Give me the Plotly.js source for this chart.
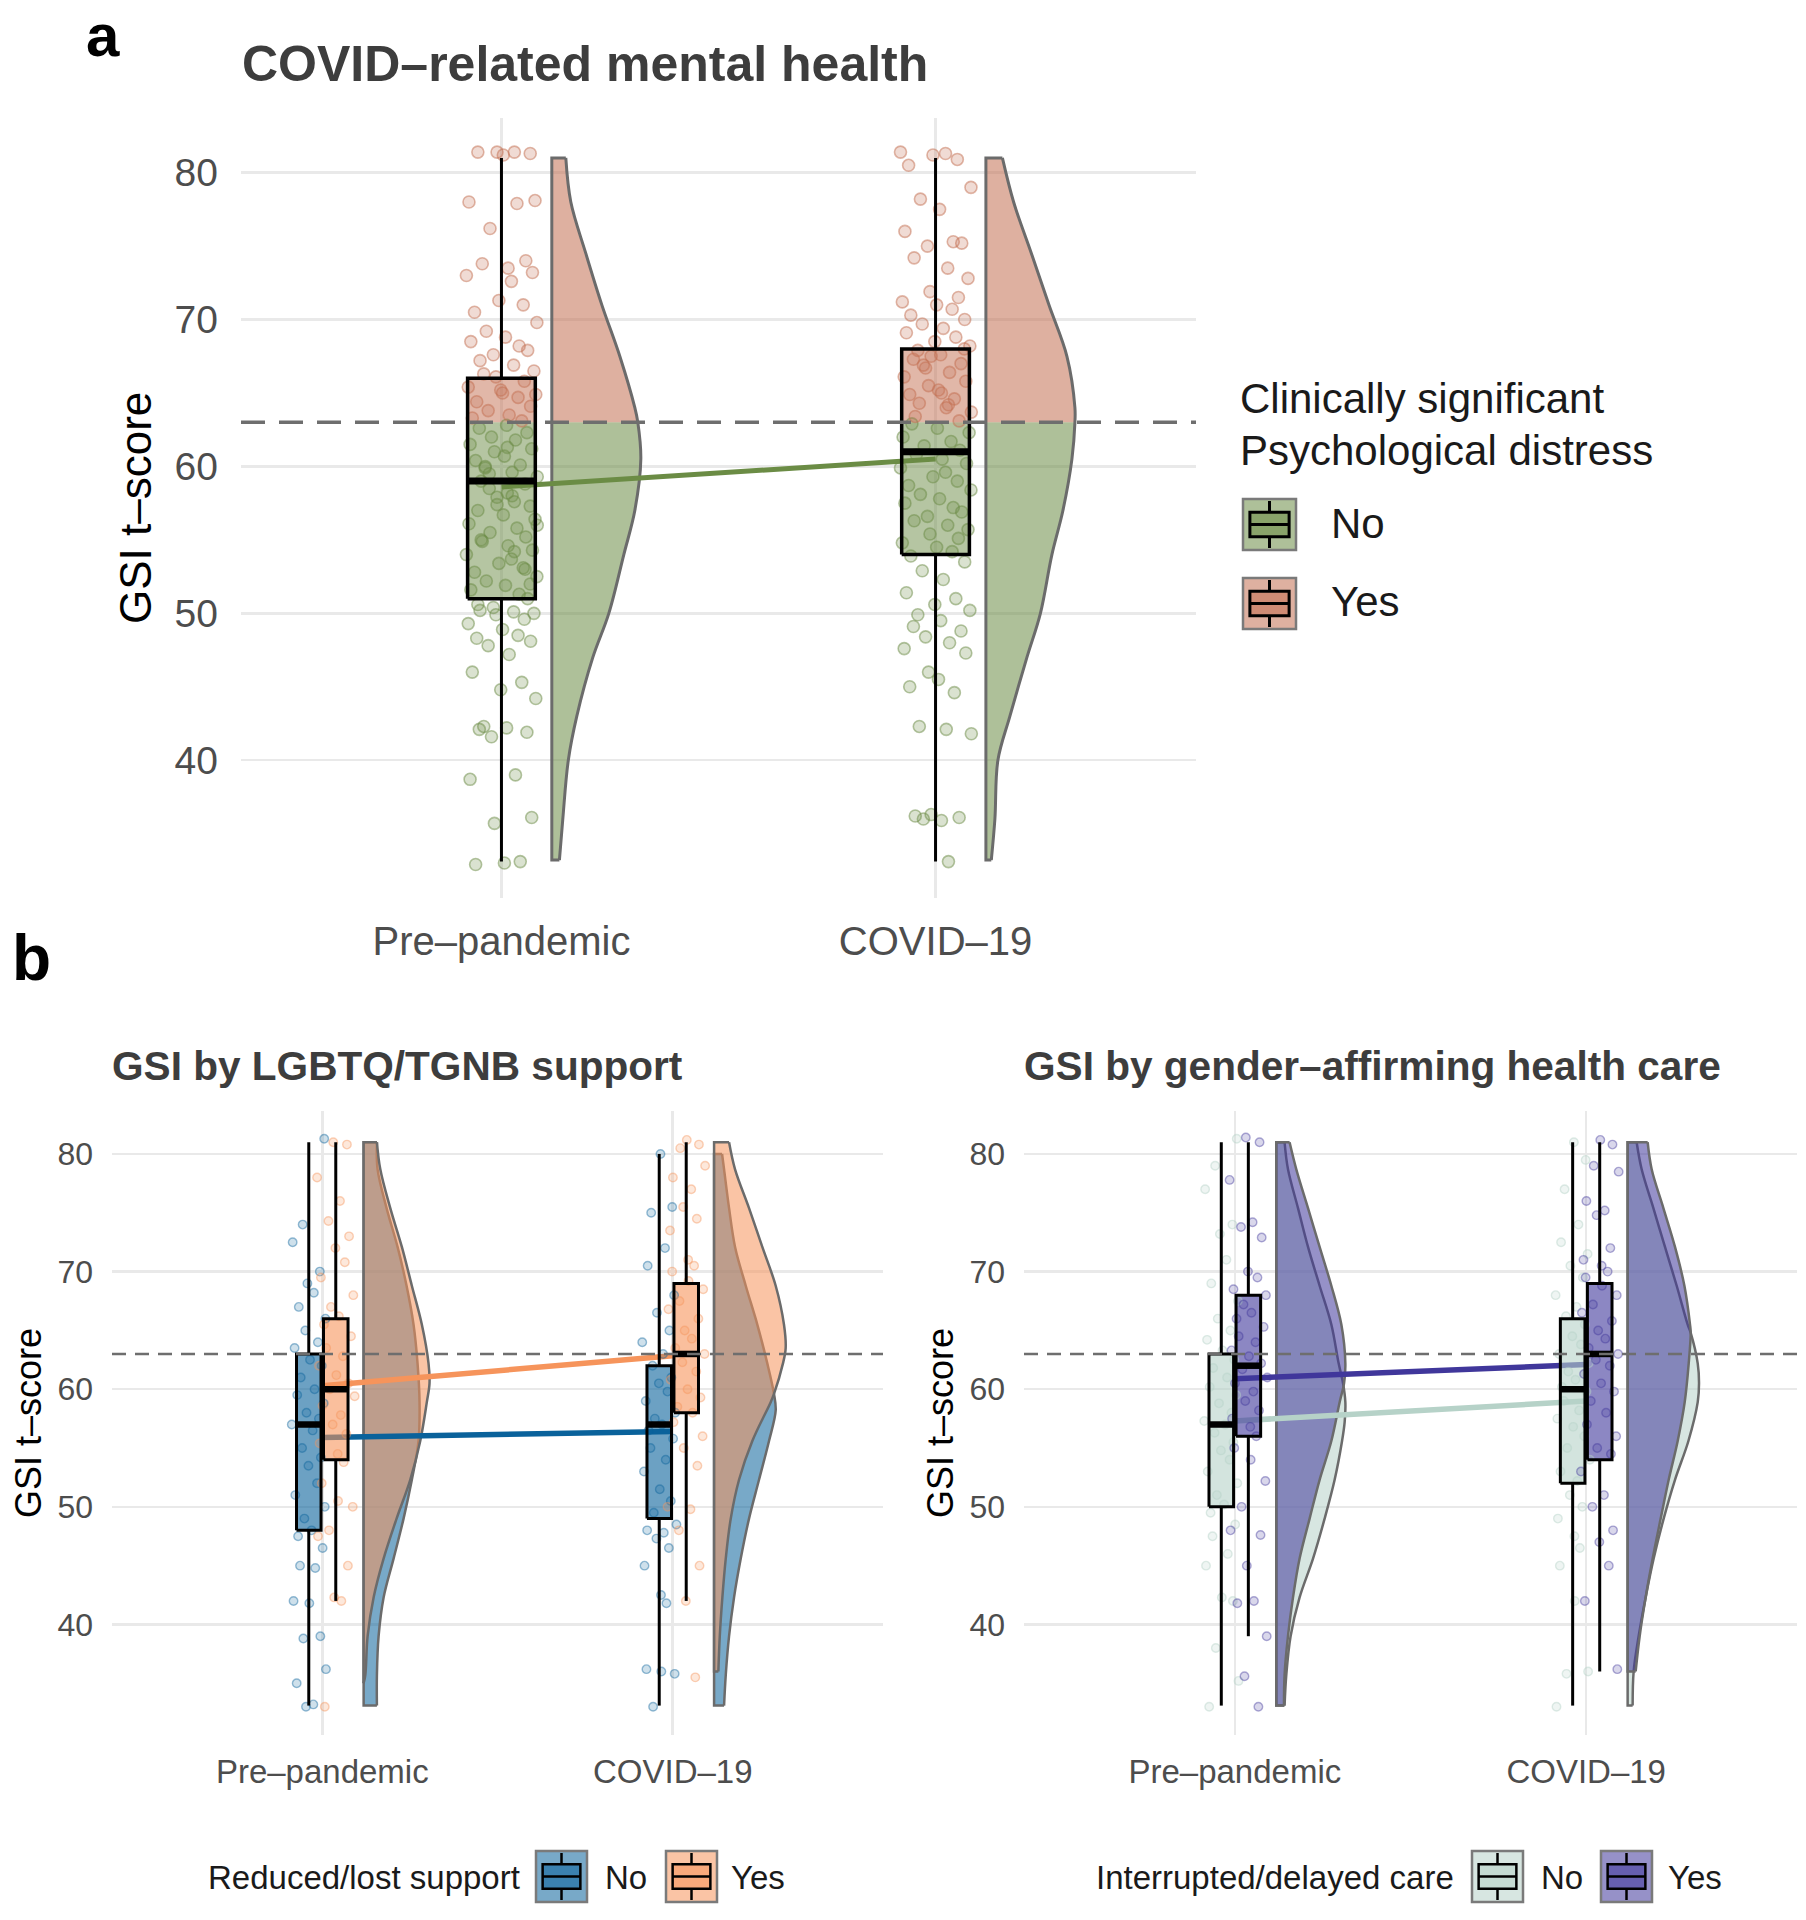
<!DOCTYPE html>
<html><head><meta charset="utf-8">
<script src="https://cdn.plot.ly/plotly-3.0.1.min.js"></script>
<style>html,body{margin:0;padding:0;background:#fff}#chart{width:1806px;height:1920px}</style>
</head><body><div id="chart"></div>
<script>
// ================= DATA =================
const timepoints = ['Pre\u2013pandemic', 'COVID\u201319'];
const threshold = 63;
const yTicks = [40, 50, 60, 70, 80];

// ---- panel a: all participants ----
const aPre = [81.4,81.4,81.3,81.4,81.2,78.1,78.0,77.9,76.2,74.0,73.8,73.5,73.2,73.0,72.6,71.3,71.0,70.5,69.8,69.2,68.8,68.5,68.2,67.9,67.6,67.2,66.9,66.5,66.1,65.8,65.4,65.0,64.7,64.4,64.1,63.8,63.5,63.3,63.1,65.2,64.9,66.3,
  62.8,62.6,62.3,62.0,61.8,61.5,61.2,61.0,60.7,60.4,60.1,59.9,59.6,59.3,59.0,58.8,58.5,58.2,57.9,57.6,57.3,57.0,56.7,56.4,56.1,55.8,55.5,55.2,54.9,54.6,54.3,54.0,53.7,53.4,53.1,52.8,52.5,52.2,51.9,51.6,51.3,51.0,50.4,50.2,50.1,50.0,49.9,49.6,49.3,48.9,48.5,48.3,48.1,47.8,47.2,46.0,45.3,44.8,44.2,42.3,42.2,42.1,41.9,41.6,39.0,38.7,36.1,35.7,33.0,32.9,33.1,60.0,58.0,56.0,55.0,53.0,59.5,61.3,57.4,54.2,52.0,50.6];
const aCov = [81.4,81.3,81.2,80.9,80.5,79.0,78.2,77.5,76.0,75.3,75.2,75.0,74.2,73.5,72.8,71.9,71.5,71.2,71.0,70.7,70.3,70.0,69.7,69.4,69.1,68.8,68.5,68.2,67.9,67.6,67.3,67.0,66.7,66.4,66.1,65.8,65.5,65.2,64.9,64.6,64.3,64.0,63.7,63.4,63.1,66.9,65.0,67.5,64.2,68.0,
  62.9,62.6,62.3,62.0,61.7,61.4,61.1,60.8,60.5,60.2,59.9,59.6,59.3,59.0,58.7,58.4,58.1,57.8,57.5,57.2,56.9,56.6,56.3,56.0,55.7,55.4,55.1,54.8,54.5,54.2,53.9,53.5,52.9,52.3,51.4,51.0,50.6,50.2,49.9,49.5,49.1,48.8,48.4,48.0,47.6,47.3,46.0,45.5,45.0,44.6,42.3,42.1,41.8,36.2,36.1,36.0,35.9,36.3,33.1];
// box stats [lower whisker, Q1, median, Q3, upper whisker]
const aPreStats = [33.1, 51, 59, 66, 81];
const aCovStats = [33.1, 54, 61, 68, 81];
const aMeans = [58.6, 60.5];
// density (half-violin)
const aDensY   = [33.2, 36, 40, 43, 47, 50, 54, 57, 60.5, 63, 64, 67.5, 71, 74.5, 78, 81];
const aPreDens = [7.6, 11, 16.5, 25, 41, 57, 72, 83, 89, 86, 83, 68, 50, 34, 19, 14];
const aCovDens = [5.4, 9, 12, 24, 41, 54.5, 66, 77, 86, 89, 89, 81, 63, 45.5, 27.7, 16.5];

// ---- panel b left: reduced/lost LGBTQ/TGNB support ----
const supNoPre  = [81.3,74.0,72.5,70.0,69.0,68.2,67.0,66.0,65.0,64.0,63.5,62.5,62.0,61.0,60.0,59.5,58.8,58.0,57.5,57.0,56.5,55.0,54.2,53.5,52.0,51.0,50.0,49.0,48.0,47.5,46.5,45.0,44.8,42.0,41.8,39.0,38.8,36.2,35.0,33.2,33.0];
const supYesPre = [81.0,80.8,78.0,76.0,74.3,73.0,72.0,70.8,69.5,68.0,67.0,66.2,65.5,64.5,63.5,62.8,62.0,61.2,60.5,60.0,59.4,58.6,57.8,57.0,56.2,55.4,54.5,53.8,52.0,50.5,50.0,48.0,47.5,45.0,42.3,42.0,33.0];
const supNoCov  = [80.0,75.5,75.0,72.0,70.5,68.0,66.5,65.0,64.0,63.0,62.0,61.0,60.5,59.8,59.0,58.0,57.5,57.0,56.5,55.8,55.0,54.0,53.0,51.5,50.5,49.5,48.5,48.0,47.8,47.3,46.5,45.0,42.5,41.8,36.2,36.0,35.8,33.0];
const supYesCov = [81.2,80.8,80.5,79.0,78.0,77.0,75.5,74.5,73.5,71.0,70.5,70.0,69.2,68.5,67.5,66.8,66.0,65.0,64.3,63.5,63.0,62.3,61.5,60.8,60.0,59.3,58.5,58.0,57.2,56.0,55.0,53.5,50.0,49.8,48.0,45.0,42.0,35.5];
const supNoStats  = [[33.1, 48, 57, 63, 81], [33.1, 49, 57, 62, 80]];
const supYesStats = [[42, 54, 60, 66, 81], [42, 58, 63, 69, 81]];
const supNoMeans  = [55.9, 56.4];
const supYesMeans = [60.3, 62.85];
const supNoPreDY  = [33.1, 35.7, 39, 42.3, 45.6, 49, 52.3, 55.6, 58.9, 62.2, 65.5, 68.8, 72.1, 75.4, 78.7, 81];
const supNoPreDW  = [13.3, 13.3, 15, 20, 30, 40, 48.3, 55, 56, 54, 50, 43, 34, 23, 14, 13.3];
const supYesPreDY = [35, 35.7, 39, 42.3, 45.6, 49, 52.3, 55.6, 58.9, 60.5, 62.2, 65.5, 68.8, 72.1, 75.4, 78.7, 81];
const supYesPreDW = [0, 1.7, 4, 10, 20, 33, 46.7, 56.7, 63.3, 66, 65, 58.3, 48.3, 38.3, 26.7, 16.7, 13.3];
const supNoCovDY  = [33.1, 35.7, 39, 42.3, 45.6, 49, 52.3, 55.6, 58.2, 59.6, 62.2, 65.5, 68.8, 72.1, 75.4, 78.7, 80];
const supNoCovDW  = [10, 11.7, 15, 20, 26.7, 35, 45, 55, 61.7, 60, 53.3, 43.3, 31.7, 21, 15, 10, 8];
const supYesCovDY = [36, 39, 42.3, 45.6, 49, 52.3, 55.6, 58.9, 59.6, 62.2, 63.5, 65.5, 68.8, 72.1, 75.4, 78.7, 81];
const supYesCovDW = [4.3, 5.7, 8.3, 11.7, 16.7, 25, 38.3, 56.7, 60, 69, 71.7, 70, 61.7, 48.3, 35, 21, 15];

// ---- panel b right: interrupted/delayed gender-affirming care ----
const careNoPre  = [81.3,79.0,77.0,74.0,73.2,71.0,69.0,67.5,66.0,65.0,64.2,63.3,62.5,61.8,61.0,60.2,59.5,58.8,58.0,57.3,57.0,56.3,55.5,54.8,54.0,53.0,52.0,51.0,50.2,49.5,48.5,47.5,46.0,45.0,42.3,42.0,38.0,35.2,33.0];
const careYesPre = [81.4,81.0,77.8,74.2,73.8,72.9,70.0,69.5,68.5,68.0,67.2,66.5,66.0,65.3,64.5,64.0,63.3,62.8,62.2,61.7,61.0,60.5,59.8,59.0,58.2,57.5,56.8,56.0,55.0,54.0,52.2,50.0,48.0,47.6,45.0,42.0,41.8,39.0,35.6,33.0];
const careNoCov  = [81.0,79.5,77.0,74.0,72.5,71.5,70.5,69.5,68.0,67.0,66.2,65.5,64.5,63.8,63.0,62.2,61.5,60.8,60.2,59.8,59.0,58.2,57.5,56.8,56.0,55.0,54.0,53.0,52.2,51.0,50.0,49.0,47.5,46.5,45.0,42.0,36.0,35.8,33.0];
const careYesCov = [81.2,80.8,79.0,78.5,76.0,75.2,74.8,72.0,71.0,70.5,70.0,69.5,68.8,68.0,67.2,66.5,65.8,65.0,64.3,63.5,63.0,62.5,62.0,61.3,60.5,59.8,59.0,58.0,57.0,56.0,55.0,54.5,53.0,51.0,50.0,48.0,47.0,45.0,42.0,36.2];
const careNoStats  = [[33.1, 50, 57, 63, 81], [33.1, 52, 60, 66, 81]];
const careYesStats = [[39, 56, 62, 68, 81], [36, 54, 63, 69, 81]];
const careNoMeans  = [57.3, 59.0];
const careYesMeans = [60.9, 62.1];
const careNoPreDY  = [33.1, 35.7, 39, 42.3, 45.6, 49, 52.3, 55.6, 57.2, 58.9, 60.5, 62.2, 65.5, 68.8, 72.1, 75.4, 78.7, 81];
const careNoPreDW  = [8.3, 10, 14.3, 23.3, 36.7, 48.3, 58.3, 65.7, 68.3, 69, 66.7, 62.3, 55, 43.3, 31.7, 21.7, 11.7, 8.3];
const careYesPreDY = [33.1, 35.7, 39, 42.3, 45.6, 49, 52.3, 55.6, 58.9, 60.5, 62.2, 65.5, 68.8, 72.1, 75.4, 78.7, 81];
const careYesPreDW = [7.7, 8.3, 11.7, 16.7, 23.3, 33.3, 43.3, 55, 63.3, 67.7, 69, 65, 55, 43.3, 31.7, 20, 13.3];
const careNoCovDY  = [33.1, 36, 39, 42.3, 45.6, 49, 52.3, 55.6, 58.9, 60.5, 62.2, 64.8, 65.5, 68.8, 72.1, 75.4, 78.7, 81];
const careNoCovDW  = [5, 6, 11, 18, 26, 36, 47.3, 60.7, 70, 71.3, 70, 63, 60, 49, 37.3, 25.7, 14, 9];
const careYesCovDY = [36, 39, 42.3, 45.6, 49, 52.3, 55.6, 58.9, 62.2, 64.8, 65.5, 68.8, 72.1, 75.4, 78.7, 81];
const careYesCovDW = [8, 12, 18, 25, 33, 41, 50, 57, 61, 63, 62.3, 56.7, 47.3, 35.7, 24, 20];

// fixed jitter offsets (fraction of jitter half-width)
const jitterA = [-0.12,0.35,0.78,-0.64,0.05,0.91,-0.88,0.42,-0.31,0.66,-0.52,0.18,0.84,-0.95,0.27,-0.07,0.59,-0.73,0.96,-0.41,0.11,-0.83,0.48,0.71,-0.22,-0.58,0.33,0.88,-0.15,0.62,-0.9,0.03,0.45,-0.67,0.79,-0.36,0.21,-0.79,0.55,-0.02,0.93,-0.48,0.14,-0.6,0.69,-0.27,0.38,-0.85,0.82,-0.19,0.08,-0.7,0.51,-0.44,0.29,0.97,-0.55,0.64,-0.33,0.16];
const jitterB = [0.41,-0.73,0.12,0.88,-0.35,-0.92,0.63,-0.08,0.29,-0.57,0.95,-0.2,0.52,-0.81,0.07,0.74,-0.46,0.33,-0.66,0.85,-0.13,0.58,-0.97,0.22,-0.38,0.69,-0.02,0.47,-0.77,0.91,-0.25,0.16,-0.61,0.79,-0.5,0.37,-0.87,0.03,0.66,-0.31,0.98,-0.69,0.26,-0.16,0.55,-0.84,0.1];

// ================= STYLE =================
const W = 1806, H = 1920;
const FONT = 'Liberation Sans, Arial, Helvetica, sans-serif';
const COL = {
  green: [107,140,69], red: [195,111,82],
  blue: [10,98,155], orange: [246,148,91],
  light: [182,210,200], purple: [64,55,155]
};
const rgba = (c, a) => `rgba(${c[0]},${c[1]},${c[2]},${a})`;
const CLEAR = 'rgba(0,0,0,0)';
const OUTLINE = '#6b6b6b';
const GRID = '#e9e9e9';
const px = x => x / W, py = y => 1 - y / H;

const PA = {boxHalf: 0.078, vOff: 0.116, vScale: 1/434, jit: 0.085, pt: 12,
            boxLW: 3.5, medLW: 7, whiskLW: 3, vLW: 3, meanLW: 5};
const PB = {boxHalf: 0.035, dodge: 0.0385, vOff: 0.118, vScale: 1/351, jit: 0.05, pt: 8.5,
            boxLW: 3, medLW: 6.5, whiskLW: 3, vLW: 2.5, meanLW: 5.5};

const traces = [];
function add(t) { t.hoverinfo = 'skip'; t.showlegend = false; traces.push(t); }

// half violin: straight base + smooth density curve, filled between them
function violin(ax, cx, ys, ws, off, sc, lo, hi, fill, outline, lw) {
  const idx = ys.map((y, i) => i).filter(i => ys[i] >= lo && ys[i] <= hi);
  const b = cx + off;
  const y0 = ys[idx[0]], y1 = ys[idx[idx.length - 1]];
  add({type: 'scatter', mode: 'lines', xaxis: ax[0], yaxis: ax[1], x: [b, b], y: [y0, y1],
    line: {width: 0, color: CLEAR}});
  add({type: 'scatter', mode: 'lines', xaxis: ax[0], yaxis: ax[1],
    x: idx.map(i => b + ws[i] * sc), y: idx.map(i => ys[i]),
    fill: fill ? 'tonextx' : 'none', fillcolor: fill || CLEAR,
    line: {color: outline || CLEAR, width: outline ? lw : 0, shape: 'spline', smoothing: 1}});
  if (outline) {
    add({type: 'scatter', mode: 'lines', xaxis: ax[0], yaxis: ax[1],
      x: [b + ws[idx[0]] * sc, b, b, b + ws[idx[idx.length - 1]] * sc], y: [y0, y0, y1, y1],
      line: {color: outline, width: lw}});
  }
}
function boxFill(ax, cx, hw, lo, hi, color) {
  add({type: 'scatter', mode: 'lines', xaxis: ax[0], yaxis: ax[1],
    x: [cx - hw, cx + hw, cx + hw, cx - hw, cx - hw], y: [lo, lo, hi, hi, lo],
    fill: 'toself', fillcolor: color, line: {width: 0, color: CLEAR}});
}
function boxLines(ax, cx, hw, s, P) {
  add({type: 'scatter', mode: 'lines', xaxis: ax[0], yaxis: ax[1],
    x: [cx, cx, null, cx, cx], y: [s[0], s[1], null, s[3], s[4]], line: {color: '#000', width: P.whiskLW}});
  add({type: 'scatter', mode: 'lines', xaxis: ax[0], yaxis: ax[1],
    x: [cx - hw, cx + hw, cx + hw, cx - hw, cx - hw], y: [s[1], s[1], s[3], s[3], s[1]],
    line: {color: '#000', width: P.boxLW}});
  add({type: 'scatter', mode: 'lines', xaxis: ax[0], yaxis: ax[1],
    x: [cx - hw, cx + hw], y: [s[2], s[2]], line: {color: '#000', width: P.medLW}});
}
function points(ax, vals, cx, jw, start, size, c, fa, la) {
  add({type: 'scatter', mode: 'markers', xaxis: ax[0], yaxis: ax[1],
    x: vals.map((v, i) => cx + jitterB[(i + start) % jitterB.length] * jw), y: vals,
    marker: {size: size, color: rgba(c, fa), line: {color: rgba(c, la), width: 1.4}}});
}

// ================= PANEL a =================
(function () {
  const ax = ['x', 'y'];
  const dens = [aPreDens, aCovDens];
  const vals = [aPre, aCov];
  const stats = [aPreStats, aCovStats];
  [1, 2].forEach((cx, k) => {
    violin(ax, cx, aDensY, dens[k], PA.vOff, PA.vScale, -1e9, threshold, rgba(COL.green, 0.55), null, 0);
    violin(ax, cx, aDensY, dens[k], PA.vOff, PA.vScale, threshold, 1e9, rgba(COL.red, 0.55), null, 0);
    violin(ax, cx, aDensY, dens[k], PA.vOff, PA.vScale, -1e9, 1e9, null, OUTLINE, PA.vLW);
  });
  add({type: 'scatter', mode: 'lines', xaxis: 'x', yaxis: 'y', x: [1, 2], y: aMeans, line: {color: rgba(COL.green, 1), width: PA.meanLW}});
  [1, 2].forEach((cx, k) => {
    const s = stats[k];
    boxFill(ax, cx, PA.boxHalf, s[1], Math.min(threshold, s[3]), rgba(COL.green, 0.5));
    boxFill(ax, cx, PA.boxHalf, Math.max(threshold, s[1]), s[3], rgba(COL.red, 0.5));
  });
  [1, 2].forEach((cx, k) => {
    const v = vals[k];
    const xs = v.map((y, i) => cx + jitterA[(i + k * 13) % jitterA.length] * PA.jit);
    const isYes = v.map(y => y >= threshold);
    add({type: 'scatter', mode: 'markers', xaxis: 'x', yaxis: 'y',
      x: xs.filter((x, i) => !isYes[i]), y: v.filter((y, i) => !isYes[i]),
      marker: {size: PA.pt, color: rgba(COL.green, 0.25), line: {color: rgba(COL.green, 0.5), width: 1.6}}});
    add({type: 'scatter', mode: 'markers', xaxis: 'x', yaxis: 'y',
      x: xs.filter((x, i) => isYes[i]), y: v.filter((y, i) => isYes[i]),
      marker: {size: PA.pt, color: rgba(COL.red, 0.25), line: {color: rgba(COL.red, 0.5), width: 1.6}}});
  });
  [1, 2].forEach((cx, k) => boxLines(ax, cx, PA.boxHalf, stats[k], PA));
})();

// ================= PANEL b =================
function panelB(ax, noC, yesC, noVals, yesVals, noStats, yesStats, noMeans, yesMeans, noD, yesD, ptA) {
  [1, 2].forEach((cx, k) => {
    violin(ax, cx, noD[k][0], noD[k][1], PB.vOff, PB.vScale, -1e9, 1e9, rgba(noC, 0.55), OUTLINE, PB.vLW);
    violin(ax, cx, yesD[k][0], yesD[k][1], PB.vOff, PB.vScale, -1e9, 1e9, rgba(yesC, 0.55), OUTLINE, PB.vLW);
  });
  add({type: 'scatter', mode: 'lines', xaxis: ax[0], yaxis: ax[1], x: [1, 2], y: noMeans, line: {color: rgba(noC, 1), width: PB.meanLW}});
  add({type: 'scatter', mode: 'lines', xaxis: ax[0], yaxis: ax[1], x: [1, 2], y: yesMeans, line: {color: rgba(yesC, 1), width: PB.meanLW}});
  [1, 2].forEach((cx, k) => {
    boxFill(ax, cx - PB.dodge, PB.boxHalf, noStats[k][1], noStats[k][3], rgba(noC, 0.6));
    boxFill(ax, cx + PB.dodge, PB.boxHalf, yesStats[k][1], yesStats[k][3], rgba(yesC, 0.6));
  });
  [1, 2].forEach((cx, k) => {
    points(ax, noVals[k], cx - PB.dodge, PB.jit, 3 + k * 11, PB.pt, noC, ptA[0], ptA[1]);
    points(ax, yesVals[k], cx + PB.dodge, PB.jit * 1.1, 20 + k * 17, PB.pt, yesC, ptA[2], ptA[3]);
  });
  [1, 2].forEach((cx, k) => {
    boxLines(ax, cx - PB.dodge, PB.boxHalf, noStats[k], PB);
    boxLines(ax, cx + PB.dodge, PB.boxHalf, yesStats[k], PB);
  });
}
panelB(['x2', 'y2'], COL.blue, COL.orange, [supNoPre, supNoCov], [supYesPre, supYesCov],
  supNoStats, supYesStats, supNoMeans, supYesMeans,
  [[supNoPreDY, supNoPreDW], [supNoCovDY, supNoCovDW]], [[supYesPreDY, supYesPreDW], [supYesCovDY, supYesCovDW]],
  [0.2, 0.42, 0.22, 0.42]);
panelB(['x3', 'y3'], COL.light, COL.purple, [careNoPre, careNoCov], [careYesPre, careYesCov],
  careNoStats, careYesStats, careNoMeans, careYesMeans,
  [[careNoPreDY, careNoPreDW], [careNoCovDY, careNoCovDW]], [[careYesPreDY, careYesPreDW], [careYesCovDY, careYesCovDW]],
  [0.22, 0.45, 0.2, 0.42]);

// ================= LAYOUT =================
function xAxis(dom, anchor, fs, standoff) {
  return {domain: dom, anchor: anchor, range: [0.4, 2.6], tickvals: [1, 2], ticktext: timepoints,
    showgrid: true, gridcolor: GRID, gridwidth: 2.5, zeroline: false, showline: false, ticks: '',
    tickfont: {family: FONT, size: fs, color: '#4d4d4d'}, ticklabelstandoff: standoff, fixedrange: true};
}
function yAxis(dom, anchor, fs, standoff) {
  return {domain: dom, anchor: anchor, range: [30.6, 83.7], tickvals: yTicks,
    showgrid: true, gridcolor: GRID, gridwidth: 2.5, zeroline: false, showline: false, ticks: '',
    tickfont: {family: FONT, size: fs, color: '#4d4d4d'}, ticklabelstandoff: standoff, fixedrange: true};
}
const yDomA = [py(898.3), py(118.3)];
const yDomB = [py(1735), py(1110.5)];

const shapes = [];
[['x', 'y', 3.5, '24px,14px'], ['x2', 'y2', 2.5, '14px,9px'], ['x3', 'y3', 2.5, '14px,9px']].forEach(a => {
  shapes.push({type: 'line', xref: a[0] + ' domain', yref: a[1], x0: 0, x1: 1, y0: threshold, y1: threshold,
    line: {color: '#6e6e6e', width: a[2], dash: a[3]}, layer: 'above'});
});

const annotations = [];
function txt(text, x, y, size, opts) {
  annotations.push(Object.assign({text: text, x: px(x), y: py(y), xref: 'paper', yref: 'paper', showarrow: false,
    xanchor: 'left', yanchor: 'middle', font: {family: FONT, size: size, color: '#000'}}, opts || {}));
}
txt('a', 84, 0, 60, {yanchor: 'top', font: {family: FONT, size: 60, color: '#000', weight: 700}});
txt('b', 10, 958, 64, {font: {family: FONT, size: 64, color: '#000', weight: 700}});
txt('COVID\u2013related mental health', 240, 64, 50, {font: {family: FONT, size: 50, color: '#3d3d3d', weight: 700}});
txt('GSI by LGBTQ/TGNB support', 110, 1066, 40.6, {font: {family: FONT, size: 40.6, color: '#3d3d3d', weight: 700}});
txt('GSI by gender\u2013affirming health care', 1022, 1066, 40.6, {font: {family: FONT, size: 40.6, color: '#3d3d3d', weight: 700}});
txt('GSI t\u2013score', 135, 508, 44, {xanchor: 'center', textangle: -90});
txt('GSI t\u2013score', 28, 1423, 36, {xanchor: 'center', textangle: -90});
txt('GSI t\u2013score', 940, 1423, 36, {xanchor: 'center', textangle: -90});
// legend a
txt('Clinically significant', 1238, 399, 42, {font: {family: FONT, size: 42, color: '#1a1a1a'}});
txt('Psychological distress', 1238, 451, 42, {font: {family: FONT, size: 42, color: '#1a1a1a'}});
txt('No', 1329, 523, 42, {font: {family: FONT, size: 42, color: '#1a1a1a'}});
txt('Yes', 1329, 602, 42, {font: {family: FONT, size: 42, color: '#1a1a1a'}});
// legends b
txt('Reduced/lost support', 522, 1877, 33, {xanchor: 'right', font: {family: FONT, size: 33, color: '#1a1a1a'}});
txt('No', 603, 1877, 33, {font: {family: FONT, size: 33, color: '#1a1a1a'}});
txt('Yes', 729, 1877, 33, {font: {family: FONT, size: 33, color: '#1a1a1a'}});
txt('Interrupted/delayed care', 1456, 1877, 33, {xanchor: 'right', font: {family: FONT, size: 33, color: '#1a1a1a'}});
txt('No', 1539, 1877, 33, {font: {family: FONT, size: 33, color: '#1a1a1a'}});
txt('Yes', 1666, 1877, 33, {font: {family: FONT, size: 33, color: '#1a1a1a'}});

function legendKey(x0, y0, w, h, vCol, bCol, lw) {
  const x1 = x0 + w, y1 = y0 + h, cx = x0 + w / 2, cy = y0 + h / 2;
  shapes.push({type: 'rect', xref: 'paper', yref: 'paper', x0: px(x0), x1: px(x1), y0: py(y1), y1: py(y0),
    fillcolor: vCol, line: {color: '#7a7a7a', width: 2.5}, layer: 'above'});
  shapes.push({type: 'line', xref: 'paper', yref: 'paper', x0: px(cx), x1: px(cx), y0: py(y1 - 2), y1: py(y0 + 2),
    line: {color: '#000', width: lw}, layer: 'above'});
  shapes.push({type: 'rect', xref: 'paper', yref: 'paper', x0: px(x0 + 0.13 * w), x1: px(x1 - 0.13 * w),
    y0: py(y0 + 0.74 * h), y1: py(y0 + 0.26 * h), fillcolor: bCol, line: {color: '#000', width: lw}, layer: 'above'});
  shapes.push({type: 'line', xref: 'paper', yref: 'paper', x0: px(x0 + 0.13 * w), x1: px(x1 - 0.13 * w), y0: py(cy), y1: py(cy),
    line: {color: '#000', width: lw}, layer: 'above'});
}
const white = [255, 255, 255];
function mix(c, a) { return `rgb(${c.map((v, i) => Math.round(v * a + white[i] * (1 - a))).join(',')})`; }
legendKey(1243, 499, 53, 51, mix(COL.green, 0.55), mix(COL.green, 0.8), 3);
legendKey(1243, 578, 53, 51, mix(COL.red, 0.55), mix(COL.red, 0.8), 3);
legendKey(536, 1851, 51, 51, mix(COL.blue, 0.55), mix(COL.blue, 0.8), 2.5);
legendKey(666, 1851, 51, 51, mix(COL.orange, 0.55), mix(COL.orange, 0.8), 2.5);
legendKey(1472, 1851, 51, 51, mix(COL.light, 0.55), mix(COL.light, 0.8), 2.5);
legendKey(1601, 1851, 51, 51, mix(COL.purple, 0.55), mix(COL.purple, 0.8), 2.5);

const layout = {
  width: W, height: H, margin: {l: 0, r: 0, t: 0, b: 0},
  paper_bgcolor: '#fff', plot_bgcolor: '#fff', showlegend: false,
  font: {family: FONT},
  xaxis: xAxis([px(241), px(1196)], 'y', 40, 16),
  yaxis: yAxis(yDomA, 'x', 39, 22),
  xaxis2: xAxis([px(112), px(883)], 'y2', 33, 14),
  yaxis2: yAxis(yDomB, 'x2', 32, 18),
  xaxis3: xAxis([px(1024), px(1797)], 'y3', 33, 14),
  yaxis3: yAxis(yDomB, 'x3', 32, 18),
  shapes: shapes, annotations: annotations
};
Plotly.newPlot('chart', traces, layout, {staticPlot: true, displayModeBar: false});
</script>
</body></html>
